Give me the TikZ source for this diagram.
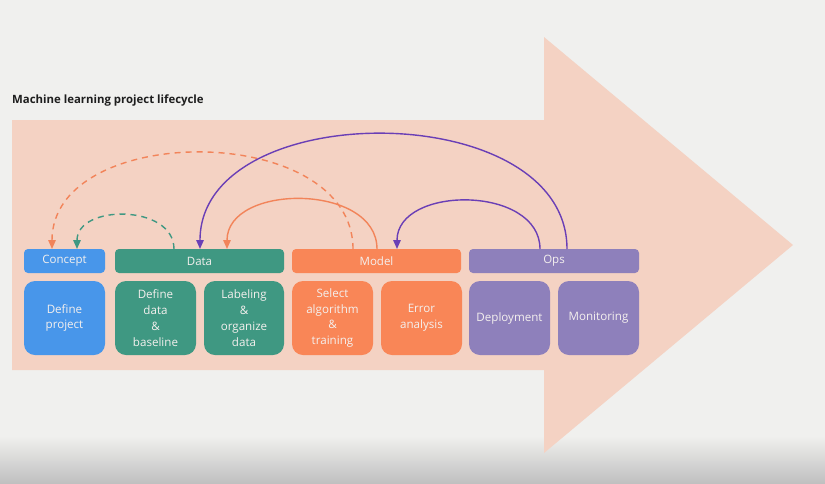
\documentclass[tikz,border=0pt]{standalone}
\usepackage{fontspec}
\setmainfont{Open Sans}
\usetikzlibrary{arrows.meta,calc}
\definecolor{bgc}{HTML}{F0F0EE}
\definecolor{arrowc}{HTML}{F4D2C3}
\definecolor{conc}{HTML}{4896EA}
\definecolor{datac}{HTML}{3F9882}
\definecolor{modc}{HTML}{F98657}
\definecolor{opsc}{HTML}{8E80BB}
\definecolor{purln}{HTML}{6A3FB6}
\definecolor{orln}{HTML}{F2845A}
\definecolor{txtc}{HTML}{F4F0EE}
\tikzset{
  bar/.style={rectangle, rounded corners=4pt, minimum height=24pt, inner sep=0pt, outer sep=0pt,
    text=txtc, font=\fontsize{11.5}{14}\selectfont},
  card/.style={rectangle, rounded corners=11pt, minimum height=74pt, minimum width=81pt, inner sep=0pt, outer sep=0pt,
    text=txtc, align=center, font=\fontsize{11.6}{15.8}\selectfont},
  link/.style={line width=1.4pt, -{Triangle[width=7.5pt,length=9pt]}},
  dashlink/.style={link, dash pattern=on 6pt off 5pt}
}
\begin{document}
\begin{tikzpicture}[x=1pt,y=-1pt]
\fill[bgc] (0,0) rectangle (825,483);
\useasboundingbox (0,0) rectangle (825,483);
\shade[top color=bgc, bottom color={rgb,255:red,192;green,192;blue,192}] (0,436) rectangle (825,483);
% big arrow
\fill[arrowc] (12,120) -- (544,120) -- (544,37) -- (793,245) -- (544,453) -- (544,370) -- (12,370) -- cycle;
% title
\node[anchor=base west, inner sep=0pt, font=\fontsize{11.4}{13}\selectfont\bfseries, text={rgb,255:red,30;green,30;blue,30}] (title) at (12,103.5) {Machine learning project lifecycle};
% header bars
\node[bar, fill=conc, minimum width=81pt] (concept) at (64.5,261) {Concept};
\node[bar, fill=datac, minimum width=169pt] (data) at (199.5,261) {Data};
\node[bar, fill=modc, minimum width=169pt] (model) at (376.5,261) {Model};
\node[bar, fill=opsc, minimum width=170pt] (ops) at (554,261) {Ops};
% cards
\node[card, fill=conc] (defproj) at (64.5,318) {Define\\project};
\node[card, fill=datac] (defdata) at (155.5,318) {Define\\data\\\&\\baseline};
\node[card, fill=datac, minimum width=80pt] (label) at (244,318) {Labeling\\\&\\organize\\data};
\node[card, fill=modc] (select) at (332.5,318) {Select\\algorithm\\\&\\training};
\node[card, fill=modc] (error) at (421.5,318) {Error\\analysis};
\node[card, fill=opsc] (deploy) at (509.5,318) {Deployment};
\node[card, fill=opsc] (monitor) at (598.5,318) {Monitoring};
% connectors
\draw[dashlink, orln] ([xshift=61pt]model.north west) .. controls +(0,-128) and +(0,-128) .. ([xshift=28pt]concept.north west);
\draw[dashlink, datac] ([xshift=59pt]data.north west) .. controls +(0,-45) and +(0,-45) .. ([xshift=53pt]concept.north west);
\draw[link, purln] ([xshift=98pt]ops.north west) .. controls +(0,-153) and +(0,-153) .. ([xshift=85pt]data.north west);
\draw[link, orln] ([xshift=85pt]model.north west) .. controls +(0,-66) and +(0,-66) .. ([xshift=112pt]data.north west);
\draw[link, purln] ([xshift=71pt]ops.north west) .. controls +(0,-64) and +(0,-64) .. ([xshift=105pt]model.north west);
\end{tikzpicture}
\end{document}
